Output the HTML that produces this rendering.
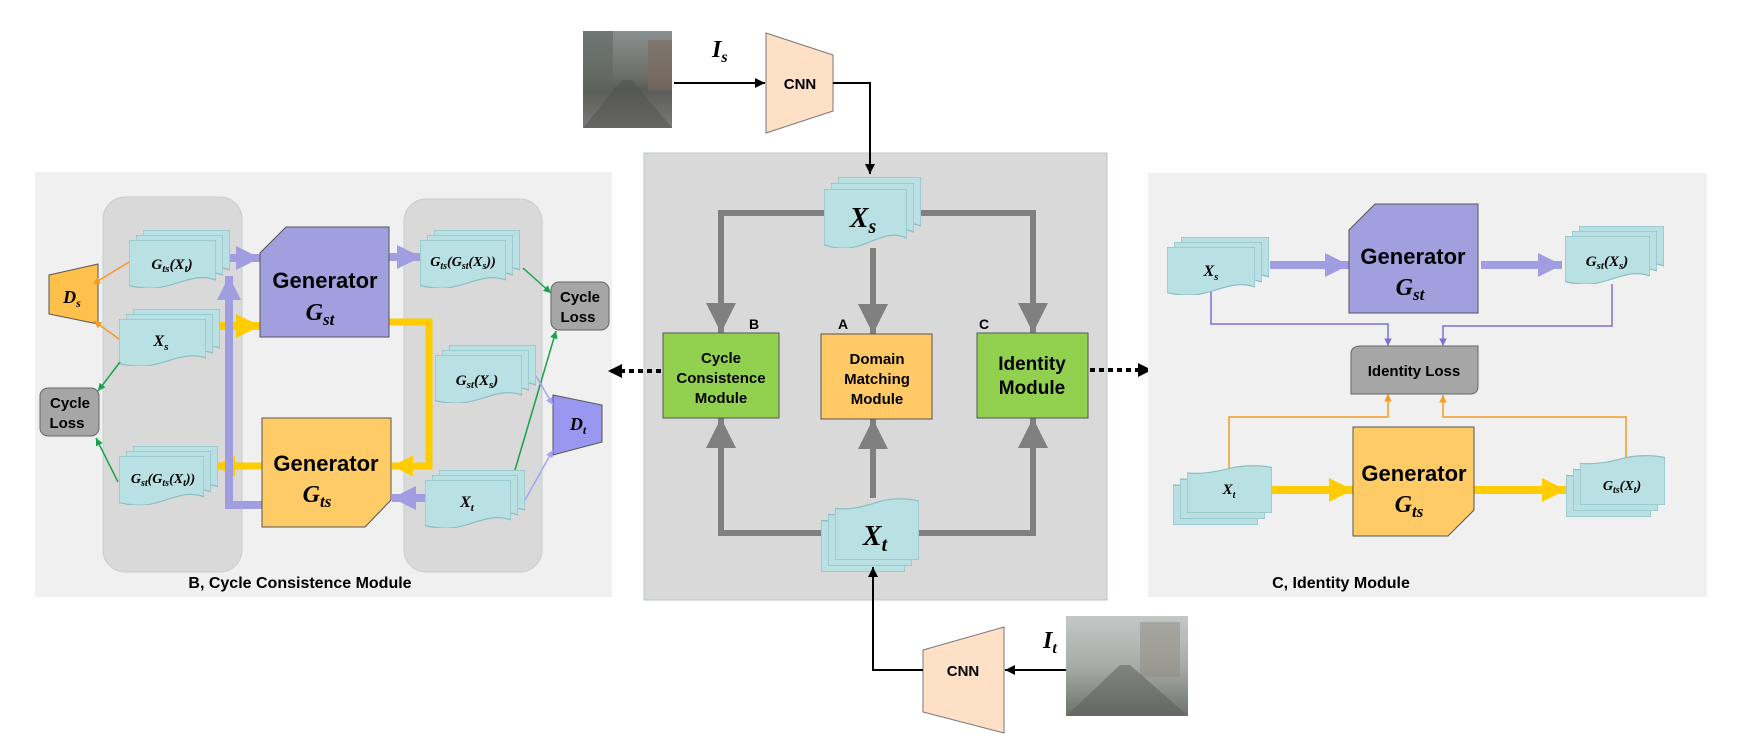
<!DOCTYPE html>
<html><head><meta charset="utf-8"><style>
html,body{margin:0;padding:0;background:#fff;}
svg{display:block;}
.s{font-family:"Liberation Sans",sans-serif;font-weight:bold;}
.m{font-family:"Liberation Serif",serif;font-style:italic;font-weight:bold;}
</style></head><body>
<svg width="1739" height="736" viewBox="0 0 1739 736" xmlns="http://www.w3.org/2000/svg">
<defs>
<symbol id="doc" viewBox="0 0 100 60" preserveAspectRatio="none"><path d="M0,0 H100 V50 C75,40 55,58 30,60 C18,61 8,59 0,57 Z" fill="#b9e0e3" stroke="#8cbfc4" stroke-width="1.2" vector-effect="non-scaling-stroke"/></symbol>
<symbol id="docf" viewBox="0 0 100 60" preserveAspectRatio="none"><path d="M0,60 H100 V3 C85,0 70,0 55,3 C35,8 20,12 0,10 Z" fill="#b9e0e3" stroke="#8cbfc4" stroke-width="1.2" vector-effect="non-scaling-stroke"/></symbol>
<marker id="aG" viewBox="0 0 10 10" refX="10" refY="5" markerWidth="5" markerHeight="5" orient="auto"><path d="M0,0L10,5L0,10z" fill="#808080"/></marker>
<marker id="aP" viewBox="0 0 10 10" refX="10" refY="5" markerWidth="3" markerHeight="3" orient="auto"><path d="M0,0L10,5L0,10z" fill="#a09ee0"/></marker>
<marker id="aY" viewBox="0 0 10 10" refX="10" refY="5" markerWidth="3" markerHeight="3" orient="auto"><path d="M0,0L10,5L0,10z" fill="#ffcc00"/></marker>
<marker id="aK" viewBox="0 0 10 10" refX="10" refY="5" markerWidth="5" markerHeight="5" orient="auto"><path d="M0,0L10,5L0,10z" fill="#000"/></marker>
<marker id="aD" viewBox="0 0 10 10" refX="10" refY="5" markerWidth="3.5" markerHeight="3.5" orient="auto"><path d="M0,0L10,5L0,10z" fill="#000"/></marker>
<marker id="aO" viewBox="0 0 10 10" refX="10" refY="5" markerWidth="5" markerHeight="5" orient="auto"><path d="M0,0L10,5L0,10z" fill="#f59a23"/></marker>
<marker id="aGr" viewBox="0 0 10 10" refX="10" refY="5" markerWidth="5" markerHeight="5" orient="auto"><path d="M0,0L10,5L0,10z" fill="#16a34a"/></marker>
<marker id="aL" viewBox="0 0 10 10" refX="10" refY="5" markerWidth="5" markerHeight="5" orient="auto"><path d="M0,0L10,5L0,10z" fill="#7b72d8"/></marker>
<marker id="aLL" viewBox="0 0 10 10" refX="10" refY="5" markerWidth="5" markerHeight="5" orient="auto"><path d="M0,0L10,5L0,10z" fill="#a8a4f4"/></marker>
<linearGradient id="ph1" x1="0" y1="0" x2="0" y2="1"><stop offset="0" stop-color="#8a9090"/><stop offset="0.45" stop-color="#6c706a"/><stop offset="0.6" stop-color="#5a5c58"/><stop offset="1" stop-color="#7a7a78"/></linearGradient>
<linearGradient id="ph2" x1="0" y1="0" x2="0" y2="1"><stop offset="0" stop-color="#c4c8c6"/><stop offset="0.5" stop-color="#a8aca8"/><stop offset="1" stop-color="#6c726c"/></linearGradient>
</defs>

<!-- LEFT PANEL -->
<rect x="35" y="172" width="577" height="425" fill="#f0f0f0"/>
<rect x="103" y="197" width="139" height="375" rx="22" fill="#d9d9d9" stroke="#c4d0d0"/>
<rect x="404" y="199" width="138" height="373" rx="22" fill="#d9d9d9" stroke="#c4d0d0"/>

<!-- thick arrows left -->
<line x1="216" y1="258" x2="260" y2="258" stroke="#a09ee0" stroke-width="8" marker-end="url(#aP)"/>
<line x1="210" y1="326" x2="260" y2="326" stroke="#ffcc00" stroke-width="8" marker-end="url(#aY)"/>
<line x1="389" y1="257" x2="421" y2="257" stroke="#a09ee0" stroke-width="8" marker-end="url(#aP)"/>
<polyline points="389,322 429,322 429,466 392,466" fill="none" stroke="#ffcc00" stroke-width="7" marker-end="url(#aY)"/>
<line x1="262" y1="466" x2="214" y2="466" stroke="#ffcc00" stroke-width="7" marker-end="url(#aY)"/>
<polyline points="262,505 229,505 229,276" fill="none" stroke="#a09ee0" stroke-width="8" marker-end="url(#aP)"/>
<line x1="425" y1="498" x2="392" y2="498" stroke="#a09ee0" stroke-width="8" marker-end="url(#aP)"/>

<!-- docs left -->
<use href="#doc" x="143" y="230" width="87" height="48"/><use href="#doc" x="136" y="235" width="87" height="48"/><use href="#doc" x="129" y="240" width="87" height="48"/>
<use href="#doc" x="133" y="309" width="87" height="47"/><use href="#doc" x="126" y="314" width="87" height="47"/><use href="#doc" x="119" y="319" width="87" height="47"/>
<use href="#doc" x="133" y="446" width="85" height="49"/><use href="#doc" x="126" y="451" width="85" height="49"/><use href="#doc" x="119" y="456" width="85" height="49"/>
<use href="#doc" x="434" y="230" width="86" height="48"/><use href="#doc" x="427" y="235" width="86" height="48"/><use href="#doc" x="420" y="240" width="86" height="48"/>
<use href="#doc" x="449" y="345" width="87" height="48"/><use href="#doc" x="442" y="350" width="87" height="48"/><use href="#doc" x="435" y="355" width="87" height="48"/>
<use href="#doc" x="439" y="470" width="86" height="48"/><use href="#doc" x="432" y="475" width="86" height="48"/><use href="#doc" x="425" y="480" width="86" height="48"/>

<text class="m" x="172" y="269" font-size="15" text-anchor="middle">G<tspan font-size="11" dy="3">ts</tspan><tspan dy="-3">(X</tspan><tspan font-size="11" dy="3">t</tspan><tspan dy="-3">)</tspan></text>
<text class="m" x="161" y="346" font-size="16" text-anchor="middle">X<tspan font-size="11" dy="4">s</tspan></text>
<text class="m" x="163" y="483" font-size="14" text-anchor="middle">G<tspan font-size="10" dy="3">st</tspan><tspan dy="-3">(G</tspan><tspan font-size="10" dy="3">ts</tspan><tspan dy="-3">(X</tspan><tspan font-size="10" dy="3">t</tspan><tspan dy="-3">))</tspan></text>
<text class="m" x="463" y="266" font-size="14" text-anchor="middle">G<tspan font-size="10" dy="3">ts</tspan><tspan dy="-3">(G</tspan><tspan font-size="10" dy="3">st</tspan><tspan dy="-3">(X</tspan><tspan font-size="10" dy="3">s</tspan><tspan dy="-3">))</tspan></text>
<text class="m" x="477" y="385" font-size="15" text-anchor="middle">G<tspan font-size="11" dy="3">st</tspan><tspan dy="-3">(X</tspan><tspan font-size="11" dy="3">s</tspan><tspan dy="-3">)</tspan></text>
<text class="m" x="467" y="507" font-size="16" text-anchor="middle">X<tspan font-size="11" dy="4">t</tspan></text>

<!-- generators left -->
<polygon points="286,227 389,227 389,337 260,337 260,253" fill="#a29fdf" stroke="#555" stroke-width="1"/>
<text class="s" x="325" y="288" font-size="22" text-anchor="middle">Generator</text>
<text class="m" x="320" y="320" font-size="24" text-anchor="middle">G<tspan font-size="17" dy="5">st</tspan></text>
<polygon points="262,418 391,418 391,500 365,527 262,527" fill="#ffcb66" stroke="#555" stroke-width="1"/>
<text class="s" x="326" y="471" font-size="22" text-anchor="middle">Generator</text>
<text class="m" x="317" y="502" font-size="24" text-anchor="middle">G<tspan font-size="17" dy="5">ts</tspan></text>

<!-- Ds, Dt, losses -->
<polygon points="49,275 98,264 98,324 49,314" fill="#ffc04c" stroke="#555"/>
<text class="m" x="72" y="303" font-size="18" text-anchor="middle">D<tspan font-size="12" dy="4">s</tspan></text>
<polygon points="553,395 602,405 602,442 553,455" fill="#9a97f0" stroke="#555"/>
<text class="m" x="578" y="430" font-size="18" text-anchor="middle">D<tspan font-size="12" dy="4">t</tspan></text>
<rect x="40" y="388" width="59" height="48" rx="8" fill="#a6a6a6" stroke="#666"/>
<text class="s" x="70" y="408" font-size="15" text-anchor="middle">Cycle</text>
<text class="s" x="67" y="428" font-size="15" text-anchor="middle">Loss</text>
<rect x="551" y="282" width="58" height="48" rx="8" fill="#a6a6a6" stroke="#666"/>
<text class="s" x="580" y="302" font-size="15" text-anchor="middle">Cycle</text>
<text class="s" x="578" y="322" font-size="15" text-anchor="middle">Loss</text>

<!-- thin arrows left -->
<line x1="129" y1="262" x2="93" y2="284" stroke="#f59a23" stroke-width="1.5" marker-end="url(#aO)"/>
<line x1="119" y1="339" x2="94" y2="321" stroke="#f59a23" stroke-width="1.5" marker-end="url(#aO)"/>
<line x1="120" y1="362" x2="98" y2="391" stroke="#16a34a" stroke-width="1.5" marker-end="url(#aGr)"/>
<line x1="118" y1="482" x2="96" y2="438" stroke="#16a34a" stroke-width="1.5" marker-end="url(#aGr)"/>
<line x1="523" y1="268" x2="551" y2="293" stroke="#16a34a" stroke-width="1.5" marker-end="url(#aGr)"/>
<line x1="515" y1="470" x2="556" y2="331" stroke="#16a34a" stroke-width="1.5" marker-end="url(#aGr)"/>
<line x1="536" y1="376" x2="553" y2="405" stroke="#a8a4f4" stroke-width="1.5" marker-end="url(#aLL)"/>
<line x1="525" y1="500" x2="553" y2="450" stroke="#a8a4f4" stroke-width="1.5" marker-end="url(#aLL)"/>

<text class="s" x="300" y="588" font-size="16" text-anchor="middle">B, Cycle Consistence Module</text>

<!-- CENTER -->
<rect x="644" y="153" width="463" height="447" fill="#d9d9d9" stroke="#b8c8c8"/>
<polyline points="824,213 721,213 721,333" fill="none" stroke="#808080" stroke-width="6" marker-end="url(#aG)"/>
<polyline points="920,213 1033,213 1033,333" fill="none" stroke="#808080" stroke-width="6" marker-end="url(#aG)"/>
<line x1="873" y1="248" x2="873" y2="334" stroke="#808080" stroke-width="6" marker-end="url(#aG)"/>
<polyline points="822,533 721,533 721,418" fill="none" stroke="#808080" stroke-width="6" marker-end="url(#aG)"/>
<polyline points="919,533 1033,533 1033,418" fill="none" stroke="#808080" stroke-width="6" marker-end="url(#aG)"/>
<line x1="873" y1="498" x2="873" y2="419" stroke="#808080" stroke-width="6" marker-end="url(#aG)"/>

<use href="#doc" x="838" y="177" width="83" height="59"/><use href="#doc" x="831" y="183" width="83" height="59"/><use href="#doc" x="824" y="189" width="83" height="59"/>
<text class="m" x="863" y="227" font-size="28" text-anchor="middle">X<tspan font-size="20" dy="6">s</tspan></text>
<use href="#docf" x="821" y="510" width="84" height="62"/><use href="#docf" x="828" y="504" width="84" height="62"/><use href="#docf" x="835" y="498" width="84" height="62"/>
<text class="m" x="875" y="545" font-size="28" text-anchor="middle">X<tspan font-size="20" dy="6">t</tspan></text>

<rect x="663" y="333" width="116" height="85" fill="#92d050" stroke="#555"/>
<text class="s" x="721" y="363" font-size="15" text-anchor="middle">Cycle</text>
<text class="s" x="721" y="383" font-size="15" text-anchor="middle">Consistence</text>
<text class="s" x="721" y="403" font-size="15" text-anchor="middle">Module</text>
<rect x="821" y="334" width="111" height="85" fill="#ffc966" stroke="#555"/>
<text class="s" x="877" y="364" font-size="15" text-anchor="middle">Domain</text>
<text class="s" x="877" y="384" font-size="15" text-anchor="middle">Matching</text>
<text class="s" x="877" y="404" font-size="15" text-anchor="middle">Module</text>
<rect x="977" y="333" width="111" height="85" fill="#92d050" stroke="#555"/>
<text class="s" x="1032" y="370" font-size="19" text-anchor="middle">Identity</text>
<text class="s" x="1032" y="394" font-size="19" text-anchor="middle">Module</text>
<text class="s" x="754" y="329" font-size="14" text-anchor="middle">B</text>
<text class="s" x="843" y="329" font-size="14" text-anchor="middle">A</text>
<text class="s" x="984" y="329" font-size="14" text-anchor="middle">C</text>

<line x1="661" y1="371" x2="608" y2="371" stroke="#000" stroke-width="4" stroke-dasharray="5 4" marker-end="url(#aD)"/>
<line x1="1090" y1="370" x2="1152" y2="370" stroke="#000" stroke-width="4" stroke-dasharray="5 4" marker-end="url(#aD)"/>

<!-- top input -->
<rect x="583" y="31" width="89" height="97" fill="url(#ph1)"/>
<rect x="583" y="31" width="30" height="60" fill="#5f6660" opacity="0.6"/>
<rect x="648" y="40" width="24" height="50" fill="#7d6a5e" opacity="0.6"/>
<polygon points="583,128 672,128 632,80 622,80" fill="#4f524e" opacity="0.5"/>
<text class="m" x="712" y="57" font-size="24">I<tspan font-size="16" dy="5">s</tspan></text>
<line x1="674" y1="83" x2="765" y2="83" stroke="#000" stroke-width="2" marker-end="url(#aK)"/>
<polygon points="766,33 833,55 833,111 766,133" fill="#fde0c5" stroke="#777"/>
<text class="s" x="800" y="89" font-size="15" text-anchor="middle">CNN</text>
<polyline points="833,83 870,83 870,174" fill="none" stroke="#000" stroke-width="2" marker-end="url(#aK)"/>

<!-- bottom input -->
<rect x="1066" y="616" width="122" height="100" fill="url(#ph2)"/>
<rect x="1140" y="622" width="40" height="55" fill="#8d8a80" opacity="0.5"/>
<polygon points="1066,716 1188,716 1130,665 1120,665" fill="#5a5e58" opacity="0.5"/>
<text class="m" x="1043" y="648" font-size="24">I<tspan font-size="16" dy="5">t</tspan></text>
<line x1="1066" y1="670" x2="1005" y2="670" stroke="#000" stroke-width="2" marker-end="url(#aK)"/>
<polygon points="923,650 1004,627 1004,733 923,712" fill="#fde0c5" stroke="#777"/>
<text class="s" x="963" y="676" font-size="15" text-anchor="middle">CNN</text>
<polyline points="923,670 873,670 873,567" fill="none" stroke="#000" stroke-width="2" marker-end="url(#aK)"/>

<!-- RIGHT PANEL -->
<rect x="1148" y="173" width="559" height="424" fill="#f0f0f0"/>
<line x1="1270" y1="265" x2="1349" y2="265" stroke="#a09ee0" stroke-width="8" marker-end="url(#aP)"/>
<line x1="1481" y1="265" x2="1562" y2="265" stroke="#a09ee0" stroke-width="8" marker-end="url(#aP)"/>
<line x1="1272" y1="490" x2="1353" y2="490" stroke="#ffcc00" stroke-width="8" marker-end="url(#aY)"/>
<line x1="1474" y1="490" x2="1566" y2="490" stroke="#ffcc00" stroke-width="8" marker-end="url(#aY)"/>
<polyline points="1211,292 1211,324 1388,324 1388,346" fill="none" stroke="#7b72d8" stroke-width="1.5" marker-end="url(#aL)"/>
<polyline points="1612,284 1612,326 1443,326 1443,346" fill="none" stroke="#7b72d8" stroke-width="1.5" marker-end="url(#aL)"/>
<polyline points="1229,468 1229,417 1388,417 1388,394" fill="none" stroke="#f59a23" stroke-width="1.5" marker-end="url(#aO)"/>
<polyline points="1626,460 1626,417 1443,417 1443,395" fill="none" stroke="#f59a23" stroke-width="1.5" marker-end="url(#aO)"/>

<use href="#doc" x="1181" y="237" width="88" height="48"/><use href="#doc" x="1174" y="242" width="88" height="48"/><use href="#doc" x="1167" y="247" width="88" height="48"/>
<text class="m" x="1211" y="276" font-size="16" text-anchor="middle">X<tspan font-size="11" dy="4">s</tspan></text>
<use href="#doc" x="1579" y="226" width="85" height="48"/><use href="#doc" x="1572" y="231" width="85" height="48"/><use href="#doc" x="1565" y="236" width="85" height="48"/>
<text class="m" x="1607" y="266" font-size="15" text-anchor="middle">G<tspan font-size="11" dy="3">st</tspan><tspan dy="-3">(X</tspan><tspan font-size="11" dy="3">s</tspan><tspan dy="-3">)</tspan></text>
<use href="#docf" x="1173" y="477" width="85" height="48"/><use href="#docf" x="1180" y="471" width="85" height="48"/><use href="#docf" x="1187" y="465" width="85" height="48"/>
<text class="m" x="1229" y="494" font-size="15" text-anchor="middle">X<tspan font-size="10" dy="4">t</tspan></text>
<use href="#docf" x="1566" y="467" width="85" height="50"/><use href="#docf" x="1573" y="461" width="85" height="50"/><use href="#docf" x="1580" y="455" width="85" height="50"/>
<text class="m" x="1622" y="490" font-size="14" text-anchor="middle">G<tspan font-size="10" dy="3">ts</tspan><tspan dy="-3">(X</tspan><tspan font-size="10" dy="3">t</tspan><tspan dy="-3">)</tspan></text>

<polygon points="1375,204 1478,204 1478,313 1349,313 1349,230" fill="#a29fdf" stroke="#555"/>
<text class="s" x="1413" y="264" font-size="22" text-anchor="middle">Generator</text>
<text class="m" x="1410" y="295" font-size="24" text-anchor="middle">G<tspan font-size="17" dy="5">st</tspan></text>
<polygon points="1353,427 1474,427 1474,510 1448,536 1353,536" fill="#ffcb66" stroke="#555"/>
<text class="s" x="1414" y="481" font-size="22" text-anchor="middle">Generator</text>
<text class="m" x="1409" y="512" font-size="24" text-anchor="middle">G<tspan font-size="17" dy="5">ts</tspan></text>
<path d="M1361,346 H1478 V386 Q1478,394 1470,394 H1351 V354 Q1351,346 1361,346 Z" fill="#a6a6a6" stroke="#666"/>
<text class="s" x="1414" y="376" font-size="15" text-anchor="middle">Identity Loss</text>

<text class="s" x="1341" y="588" font-size="16" text-anchor="middle">C, Identity Module</text>
</svg>
</body></html>
